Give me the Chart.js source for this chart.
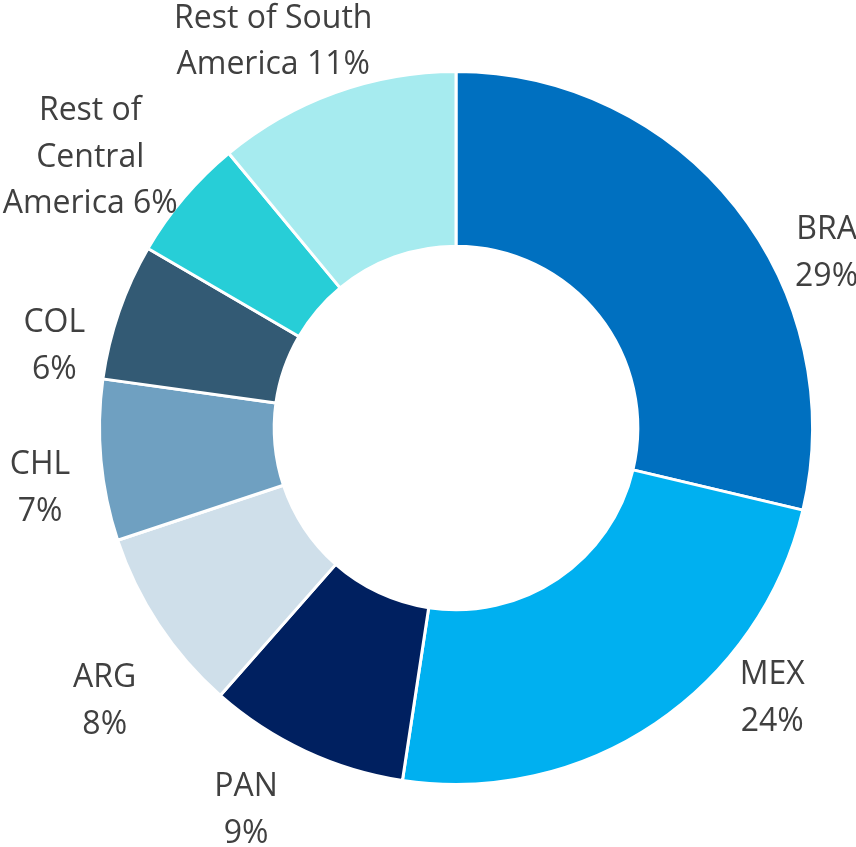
<!DOCTYPE html>
<html>
<head>
<meta charset="utf-8">
<script src="https://cdn.jsdelivr.net/npm/chart.js@4.4.1/dist/chart.umd.min.js"></script>
<style>
  html, body { margin: 0; padding: 0; background: #ffffff; }
  #wrap { width: 856px; height: 847px; }
</style>
</head>
<body>
<div id="wrap"><canvas id="mix"></canvas></div>
<script>
// Country split of the portfolio
const categories = ['BRA', 'MEX', 'PAN', 'ARG', 'CHL', 'COL', 'Rest of Central America', 'Rest of South America'];
const shares = [28.7, 23.7, 9.1, 8.4, 7.3, 6.2, 5.6, 11.0];

// how each label wraps onto lines
const labelLines = [
  ['BRA'], ['MEX'], ['PAN'], ['ARG'], ['CHL'], ['COL'],
  ['Rest of', 'Central', 'America'], ['Rest of South', 'America']
];

const colors = [
  '#0070C0', // BRA
  '#00B0F0', // MEX
  '#002060', // PAN
  '#CFDFEA', // ARG
  '#6FA0C1', // CHL
  '#335A74', // COL
  '#27CED7', // Rest of Central America
  '#A6EBEF'  // Rest of South America
];

// label spot: angle nudge (deg) from slice middle, distance as share of outer radius
const labelSpots = [
  [12.8, 1.152], [-15.7, 1.163], [3.9, 1.218], [-4.2, 1.245],
  [-2.7, 1.178], [-7.3, 1.151], [-3.6, 1.280], [-5.4, 1.204]
];

const total = shares.reduce((a, b) => a + b, 0);

const outsideLabels = {
  id: 'outsideLabels',
  afterDatasetsDraw(chart) {
    const ctx = chart.ctx;
    const meta = chart.getDatasetMeta(0);
    const fontSize = 32;
    const lineGap = 46.5;
    ctx.save();
    ctx.font = fontSize + "px 'Open Sans', sans-serif";
    ctx.fillStyle = '#404040';
    ctx.textAlign = 'center';
    ctx.textBaseline = 'alphabetic';
    meta.data.forEach((arc, i) => {
      const p = arc.getProps(['x', 'y', 'startAngle', 'endAngle', 'outerRadius'], true);
      const mid = (p.startAngle + p.endAngle) / 2 + labelSpots[i][0] * Math.PI / 180;
      const r = p.outerRadius * labelSpots[i][1];
      const cx = p.x + Math.cos(mid) * r;
      const cy = p.y + Math.sin(mid) * r;
      const pct = Math.round(shares[i] / total * 100) + '%';
      const lines = labelLines[i].slice();
      if (lines.length > 1) {
        lines[lines.length - 1] += ' ' + pct;
      } else {
        lines.push(pct);
      }
      const top = cy - (lines.length - 1) * lineGap / 2;
      lines.forEach((t, k) => {
        ctx.fillText(t, cx, top + k * lineGap + fontSize * 0.357);
      });
    });
    ctx.restore();
  }
};

new Chart(document.getElementById('mix'), {
  type: 'doughnut',
  data: {
    labels: categories,
    datasets: [{
      data: shares,
      backgroundColor: colors,
      borderColor: '#ffffff',
      borderWidth: 3
    }]
  },
  options: {
    responsive: true,
    maintainAspectRatio: false,
    animation: false,
    cutout: '51%',
    layout: { padding: { left: 98, right: 42, top: 70, bottom: 61 } },
    plugins: {
      legend: { display: false },
      tooltip: { enabled: false }
    }
  },
  plugins: [outsideLabels]
});
</script>
</body>
</html>
